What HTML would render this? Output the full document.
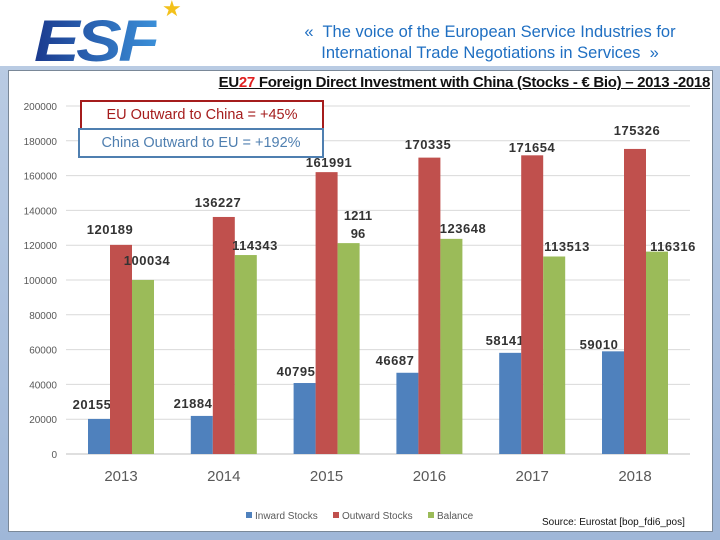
<!DOCTYPE html>
<html><head><meta charset="utf-8"><style>
body{margin:0;width:720px;height:540px;overflow:hidden;background:linear-gradient(#fff 0,#fff 66px,#b9cbe3 66px,#9fb7d8 540px);font-family:"Liberation Sans",sans-serif;position:relative}
.hd{position:absolute;left:270px;width:440px;text-align:center;color:#1f6fc2;font-size:16.5px;line-height:21px;top:22px}
#box{position:absolute;left:8px;top:70px;width:703px;height:460px;background:#fff;border:1px solid #7a8898}
</style></head><body>
<div style="position:absolute;left:34px;top:8px;font:italic bold 58px 'Liberation Sans',sans-serif;letter-spacing:-3px;transform:scaleX(1.18);transform-origin:left top;background:linear-gradient(90deg,#1b3a8e,#3b8fd8);-webkit-background-clip:text;color:transparent">ESF</div>
<div style="position:absolute;left:162px;top:-4px;color:#f3c11b;font-size:22px">★</div>
<div class="hd">«&nbsp; The voice of the European Service Industries for<br>International Trade Negotiations in Services &nbsp;»</div>
<div id="box"></div>
<svg id="chart" width="720" height="540" style="position:absolute;left:0;top:0"></svg>
<script>
const years=["2013","2014","2015","2016","2017","2018"];
const inward=[20155,21884,40795,46687,58141,59010];
const outward=[120189,136227,161991,170335,171654,175326];
const balance=[100034,114343,121196,123648,113513,116316];
const yTicks=[0,20000,40000,60000,80000,100000,120000,140000,160000,180000,200000];
const inLbl=[[92,404],[193,403],[296,371],[395,360],[505,340],[599,344]];
const outLbl=[[110,229],[218,202],[329,162],[428,144],[532,147],[637,130]];
const balLbl=[[147,260],[255,245],[358,216],[463,228],[567,246],[673,246]];
const NS="http://www.w3.org/2000/svg";const svg=document.getElementById('chart');
function y(v){return 454-v*0.00174;}
function x(i){return 121+i*102.8;}
function mk(t,a,txt){const e=document.createElementNS(NS,t);for(const k in a)e.setAttribute(k,a[k]);if(txt!=null)e.textContent=txt;svg.appendChild(e);return e;}
yTicks.forEach(t=>{
 const l=mk('line',{x1:66,x2:690,y1:y(t),y2:y(t),stroke:t?'#d9d9d9':'#bfbfbf'});
 
 
 const tx=mk('text',{x:57,y:y(t)+4,'text-anchor':'end','font-size':10,fill:'#595959'},t);
 
 
});
const series=[[inward,'#4f81bd',-22,inLbl,'inward'],[outward,'#c0504d',0,outLbl,'outward'],[balance,'#9bbb59',22,balLbl,'balance']];
years.forEach((yr,i)=>{
 const t=mk('text',{x:x(i),y:481,'text-anchor':'middle','font-size':15,fill:'#595959'},yr);
 
 
 series.forEach(s=>{
  const v=s[0][i];
  const r=mk('rect',{x:x(i)+s[2]-11,y:y(v),width:22,height:454-y(v),fill:s[1]});
  
  
  const p=s[3][i];
  const txt=String(v);
  if(s[4]==='balance'&&i===2){
   const a=mk('text',{x:p[0],y:p[1]+4,'text-anchor':'middle','font-size':13,'font-weight':'bold',fill:'#333'},txt.slice(0,4));
   
   
   const b=mk('text',{x:p[0],y:p[1]+22,'text-anchor':'middle','font-size':13,'font-weight':'bold',fill:'#333'},txt.slice(4));
   
   
  } else {
   const a=mk('text',{x:p[0],y:p[1]+5,'text-anchor':'middle','font-size':13,'font-weight':'bold',fill:'#333','letter-spacing':'0.5'},txt);
   
   
  }
 });
});
const leg=[['Inward Stocks','#4f81bd',246],['Outward Stocks','#c0504d',333],['Balance','#9bbb59',428]];
leg.forEach(l=>{
 const r=mk('rect',{x:l[2],y:512,width:6,height:6,fill:l[1]});
 
 
 const t=mk('text',{x:l[2]+9,y:519,'font-size':10,fill:'#595959'},l[0]);
 
 
});
</script>
<div style="position:absolute;left:150px;top:74px;width:560px;text-align:right;font:bold 15px 'Liberation Sans',sans-serif;text-decoration:underline;color:#111;letter-spacing:-0.3px">EU<span style="color:#e02020">27</span> Foreign Direct Investment with China (Stocks - € Bio) – 2013 -2018</div>
<div style="position:absolute;left:80px;top:100px;width:240px;height:26px;border:2px solid #a51c1c;background:#fff;color:#a51c1c;font-size:14.5px;line-height:26px;text-align:center">EU Outward to China = +45%</div>
<div style="position:absolute;left:78px;top:128px;width:242px;height:26px;border:2px solid #4f7fb0;background:#fff;color:#4f7fb0;font-size:14.5px;line-height:26px;text-align:center">China Outward to EU = +192%</div>
<div style="position:absolute;left:542px;top:517px;font-size:10px;color:#111">Source: Eurostat [bop_fdi6_pos]</div>
</body></html>
